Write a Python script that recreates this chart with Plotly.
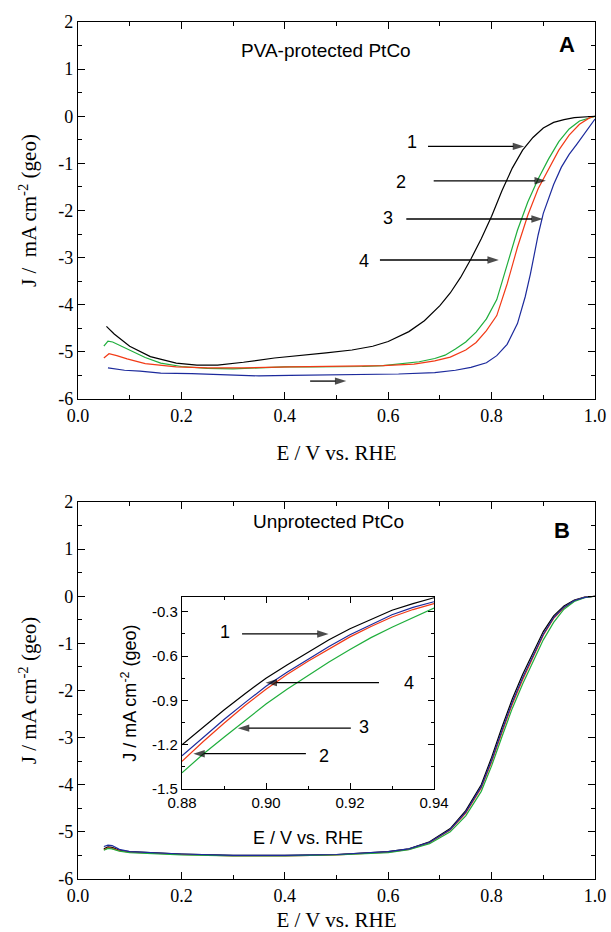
import plotly.graph_objects as go

# ---------------- data ----------------
# Panel A (PVA-protected PtCo)
E_A1 = [0.055, 0.07, 0.10, 0.14, 0.19, 0.23, 0.27, 0.32, 0.38, 0.43, 0.48, 0.53, 0.57, 0.60, 0.64, 0.67,
        0.70, 0.72, 0.74, 0.76, 0.78, 0.80, 0.82, 0.84, 0.86, 0.88, 0.90, 0.92, 0.94, 0.96, 0.98, 1.0]
J_A1 = [-4.46, -4.62, -4.88, -5.10, -5.24, -5.28, -5.28, -5.22, -5.13, -5.08, -5.02, -4.96, -4.88, -4.78,
        -4.57, -4.34, -4.02, -3.75, -3.42, -3.03, -2.60, -2.12, -1.58, -1.10, -0.72, -0.45, -0.25, -0.13,
        -0.07, -0.03, -0.01, 0.0]

E_A_green = [0.05, 0.058, 0.067, 0.08, 0.10, 0.13, 0.16, 0.20, 0.25, 0.30, 0.35, 0.40, 0.45, 0.50, 0.55,
             0.59, 0.63, 0.66, 0.69, 0.71, 0.73, 0.75, 0.77, 0.79, 0.81, 0.83, 0.85, 0.87, 0.89, 0.91,
             0.93, 0.95, 0.97, 1.0]
J_A_green = [-4.88, -4.77, -4.79, -4.86, -4.96, -5.12, -5.24, -5.31, -5.35, -5.36, -5.34, -5.32, -5.32,
             -5.32, -5.31, -5.29, -5.25, -5.21, -5.14, -5.07, -4.94, -4.79, -4.58, -4.30, -3.89, -3.17,
             -2.42, -1.82, -1.33, -0.91, -0.54, -0.27, -0.10, 0.0]

E_A_red = [0.05, 0.06, 0.075, 0.095, 0.13, 0.19, 0.25, 0.32, 0.41, 0.48, 0.54, 0.59, 0.65, 0.69, 0.72,
           0.75, 0.77, 0.79, 0.81, 0.83, 0.85, 0.87, 0.89, 0.91, 0.93, 0.95, 0.97, 0.99, 1.0]
J_A_red = [-5.13, -5.04, -5.08, -5.15, -5.25, -5.32, -5.34, -5.34, -5.32, -5.31, -5.29, -5.29, -5.26,
           -5.19, -5.11, -4.96, -4.80, -4.55, -4.23, -3.56, -2.78, -2.10, -1.54, -1.12, -0.72, -0.40,
           -0.17, -0.03, 0.0]

E_A_blue = [0.058, 0.09, 0.12, 0.16, 0.22, 0.29, 0.35, 0.41, 0.48, 0.54, 0.62, 0.69, 0.73, 0.76, 0.79,
            0.81, 0.83, 0.85, 0.865, 0.875, 0.89, 0.90, 0.91, 0.92, 0.935, 0.95, 0.965, 0.98, 0.99, 1.0]
J_A_blue = [-5.34, -5.39, -5.41, -5.45, -5.46, -5.49, -5.51, -5.50, -5.49, -5.49, -5.47, -5.44, -5.39,
            -5.33, -5.23, -5.08, -4.84, -4.40, -3.83, -3.35, -2.52, -2.06, -1.74, -1.45, -1.08, -0.81,
            -0.59, -0.36, -0.21, -0.06]

# Panel B (Unprotected PtCo) main curves
E_B = [0.05, 0.058, 0.066, 0.08, 0.10, 0.15, 0.20, 0.30, 0.40, 0.50, 0.60, 0.64, 0.68, 0.72, 0.75, 0.78,
       0.80, 0.82, 0.84, 0.86, 0.88, 0.90, 0.92, 0.94, 0.96, 0.98, 1.0]
J_B_black = [-5.36, -5.32, -5.33, -5.39, -5.42, -5.45, -5.47, -5.50, -5.50, -5.48, -5.42, -5.36, -5.21,
             -4.93, -4.55, -4.00, -3.42, -2.78, -2.18, -1.66, -1.20, -0.75, -0.415, -0.205, -0.08, -0.02, 0.0]
J_B_blue = [-5.31, -5.28, -5.29, -5.37, -5.42, -5.45, -5.47, -5.50, -5.50, -5.48, -5.42, -5.36, -5.22,
            -4.95, -4.58, -4.04, -3.48, -2.85, -2.25, -1.73, -1.275, -0.805, -0.455, -0.232, -0.09, -0.025, 0.0]
J_B_red = [-5.38, -5.34, -5.35, -5.40, -5.43, -5.46, -5.48, -5.51, -5.51, -5.49, -5.43, -5.37, -5.23,
           -4.96, -4.60, -4.07, -3.52, -2.89, -2.29, -1.77, -1.313, -0.825, -0.47, -0.245, -0.095, -0.025, 0.0]
J_B_green = [-5.39, -5.35, -5.36, -5.41, -5.44, -5.47, -5.49, -5.51, -5.51, -5.49, -5.44, -5.38, -5.25,
             -5.00, -4.66, -4.14, -3.60, -2.98, -2.38, -1.86, -1.39, -0.925, -0.555, -0.275, -0.11, -0.03, 0.0]

# Panel B inset (zoom 0.88-0.94 V)
E_in = [0.880, 0.885, 0.890, 0.895, 0.900, 0.905, 0.910, 0.915, 0.920, 0.925, 0.930, 0.935, 0.940]
J_in_black = [-1.20, -1.08, -0.965, -0.855, -0.75, -0.66, -0.575, -0.49, -0.415, -0.35, -0.29, -0.245, -0.205]
J_in_blue = [-1.275, -1.15, -1.03, -0.915, -0.805, -0.71, -0.62, -0.535, -0.455, -0.385, -0.32, -0.27, -0.232]
J_in_red = [-1.313, -1.18, -1.055, -0.935, -0.825, -0.725, -0.635, -0.55, -0.47, -0.40, -0.335, -0.285, -0.245]
J_in_green = [-1.39, -1.265, -1.15, -1.035, -0.925, -0.825, -0.73, -0.64, -0.555, -0.475, -0.405, -0.338, -0.275]

# tick labels
x_tick_vals = [0.0, 0.2, 0.4, 0.6, 0.8, 1.0]
x_tick_text = ["0.0", "0.2", "0.4", "0.6", "0.8", "1.0"]
y_tick_vals = [-6, -5, -4, -3, -2, -1, 0, 1, 2]
y_tick_text = ["-6", "-5", "-4", "-3", "-2", "-1", "0", "1", "2"]
xin_tick_vals = [0.88, 0.90, 0.92, 0.94]
xin_tick_text = ["0.88", "0.90", "0.92", "0.94"]
yin_tick_vals = [-1.5, -1.2, -0.9, -0.6, -0.3]
yin_tick_text = ["-1.5", "-1.2", "-0.9", "-0.6", "-0.3"]

# curve labels (label, text x, text y) and pointer arrows (tail x, head x, y)
A_labels = [("1", 0.646, -0.55), ("2", 0.624, -1.40), ("3", 0.599, -2.16), ("4", 0.553, -3.08)]
A_arrows = [(0.677, 0.863, -0.64), (0.688, 0.905, -1.37), (0.635, 0.899, -2.18), (0.584, 0.814, -3.05)]
A_scan_arrow = (0.449, 0.519, -5.62)
in_labels = [("1", 0.8902, -0.44), ("4", 0.9340, -0.78), ("3", 0.9234, -1.08), ("2", 0.9137, -1.275)]
in_arrows = [(0.8943, 0.9149, -0.45), (0.9269, 0.8999, -0.78), (0.9202, 0.8933, -1.088),
             (0.9095, 0.8827, -1.261)]

# ---------------- style ----------------
W, H = 611, 932
C_BLACK, C_RED, C_GREEN, C_BLUE = "#000000", "#f23a16", "#1fae3c", "#1c2a9c"
SERIF = "Liberation Serif, Times New Roman, serif"
SANS = "Liberation Sans, Arial, sans-serif"


def px(x):
    return x / W


def py(y):
    return 1 - y / H


fig = go.Figure()


def add_line(x, y, color, xa, ya):
    fig.add_trace(go.Scatter(x=x, y=y, mode="lines", line=dict(color=color, width=1.2),
                             xaxis=xa, yaxis=ya, showlegend=False, hoverinfo="skip"))


def add_arrow(x0, x1, y, xa, ya):
    fig.add_trace(go.Scatter(x=[x0, x1], y=[y, y], mode="lines+markers",
                             line=dict(color="black", width=1.3),
                             marker=dict(symbol="arrow", size=[0, 12], angleref="previous",
                                         color="black", line=dict(width=0)),
                             xaxis=xa, yaxis=ya, showlegend=False, hoverinfo="skip"))


add_line(E_A1, J_A1, C_BLACK, "x", "y")
add_line(E_A_green, J_A_green, C_GREEN, "x", "y")
add_line(E_A_red, J_A_red, C_RED, "x", "y")
add_line(E_A_blue, J_A_blue, C_BLUE, "x", "y")

add_line(E_B, J_B_black, C_BLACK, "x2", "y2")
add_line(E_B, J_B_red, C_RED, "x2", "y2")
add_line(E_B, J_B_green, C_GREEN, "x2", "y2")
add_line(E_B, J_B_blue, C_BLUE, "x2", "y2")

add_line(E_in, J_in_green, C_GREEN, "x3", "y3")
add_line(E_in, J_in_red, C_RED, "x3", "y3")
add_line(E_in, J_in_blue, C_BLUE, "x3", "y3")
add_line(E_in, J_in_black, C_BLACK, "x3", "y3")

for x0, x1, yy in A_arrows:
    add_arrow(x0, x1, yy, "x", "y")
add_arrow(A_scan_arrow[0], A_scan_arrow[1], A_scan_arrow[2], "x", "y")
for x0, x1, yy in in_arrows:
    add_arrow(x0, x1, yy, "x3", "y3")


def axis(domain, rng, tv, tt, mdt, font, anchor, title, tfont, standoff, tlen=7, mlen=4):
    return dict(domain=domain, range=rng, anchor=anchor, showline=True, linecolor="black", linewidth=1.4,
                mirror="ticks", ticks="inside", ticklen=tlen, tickwidth=1.1, tickcolor="black",
                tickmode="array", tickvals=tv, ticktext=tt, tickfont=font, showgrid=False, zeroline=False,
                automargin=False,
                title=dict(text=title, font=tfont, standoff=standoff),
                minor=dict(ticks="inside", ticklen=mlen, dtick=mdt, tick0=0, tickcolor="black",
                           tickwidth=1.1, showgrid=False))


main_font = dict(family=SERIF, size=18, color="black")
in_font = dict(family=SANS, size=15, color="black")
main_title_font = dict(family=SERIF, size=21, color="black")
in_title_font = dict(family=SANS, size=18, color="black")
E_title = "E / V vs. RHE"
J_title_A = "J /  mA cm<sup>-2</sup> (geo)"
J_title = "J / mA cm<sup>-2</sup> (geo)"

xdom = [px(78), px(595)]
fig.update_layout(
    template="none",
    width=W, height=H, margin=dict(l=0, r=0, t=0, b=0, pad=0, autoexpand=False),
    paper_bgcolor="white", plot_bgcolor="white", showlegend=False,
    xaxis=axis(xdom, [0, 1], x_tick_vals, x_tick_text, 0.1, main_font, "y",
               E_title, main_title_font, 20),
    yaxis=axis([py(399), py(22)], [-6, 2], y_tick_vals, y_tick_text, 0.5, main_font, "x",
               J_title_A, main_title_font, 15),
    xaxis2=axis(xdom, [0, 1], x_tick_vals, x_tick_text, 0.1, main_font, "y2",
                E_title, main_title_font, 25),
    yaxis2=axis([py(879), py(502)], [-6, 2], y_tick_vals, y_tick_text, 0.5, main_font, "x2",
                J_title, main_title_font, 15),
    xaxis3=axis([px(182), px(434)], [0.88, 0.94], xin_tick_vals, xin_tick_text, 0.01, in_font, "y3",
                E_title, in_title_font, 21, tlen=6, mlen=3),
    yaxis3=axis([py(789), py(597)], [-1.5, -0.2], yin_tick_vals, yin_tick_text, 0.15, in_font, "x3",
                J_title, in_title_font, 10, tlen=6, mlen=3),
)

ann = []
ann.append(dict(text="PVA-protected PtCo", x=0.48, y=1.40, xref="x", yref="y", showarrow=False,
                font=dict(family=SANS, size=19, color="black")))
ann.append(dict(text="<b>A</b>", x=0.945, y=1.53, xref="x", yref="y", showarrow=False,
                font=dict(family=SANS, size=22, color="black")))
ann.append(dict(text="Unprotected PtCo", x=0.485, y=1.58, xref="x2", yref="y2", showarrow=False,
                font=dict(family=SANS, size=19, color="black")))
ann.append(dict(text="<b>B</b>", x=0.937, y=1.40, xref="x2", yref="y2", showarrow=False,
                font=dict(family=SANS, size=22, color="black")))

for lab, tx, ty in A_labels:
    ann.append(dict(text=lab, x=tx, y=ty, xref="x", yref="y", showarrow=False,
                    font=dict(family=SANS, size=18, color="black")))
for lab, tx, ty in in_labels:
    ann.append(dict(text=lab, x=tx, y=ty, xref="x3", yref="y3", showarrow=False,
                    font=dict(family=SANS, size=18, color="black")))

fig.update_layout(annotations=ann)
fig.write_html("out.html", config={"displayModeBar": False},
               post_script="document.body.style.margin='0px';")
